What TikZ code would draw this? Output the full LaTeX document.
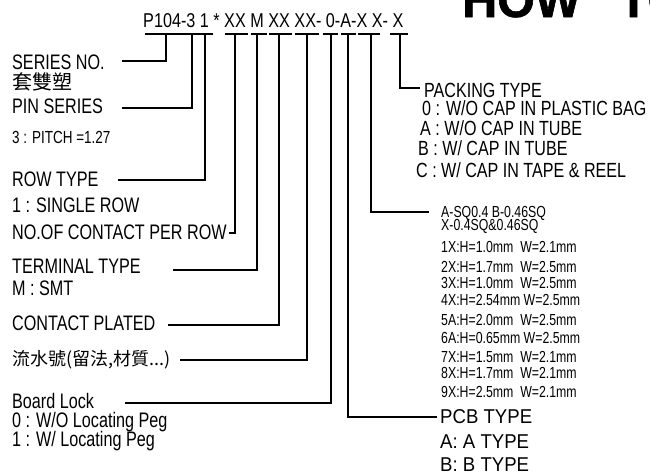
\documentclass[tikz,border=0pt]{standalone}
\usepackage{fontspec}
\setmainfont{Liberation Sans}[FakeStretch=0.77]
\newfontfamily\codefont{Liberation Sans}[FakeStretch=0.81]
\newfontfamily\pkfont{Liberation Sans}[FakeStretch=0.785]
\newfontfamily\pcbfont{Liberation Sans}[FakeStretch=0.93]
\newfontfamily\cjk{Noto Sans CJK TC}
\newfontfamily\titlefont{Liberation Sans}[FakeStretch=0.97,FakeBold=1.2]
\begin{document}
\begin{tikzpicture}[x=1pt,y=-1pt,
  big/.style={anchor=base west,inner sep=0pt,font=\fontsize{21}{23}\selectfont},
  pk/.style={anchor=base west,inner sep=0pt,font=\pkfont\fontsize{20.5}{22}\selectfont},
  pcbl/.style={anchor=base west,inner sep=0pt,font=\pcbfont\fontsize{20}{22}\selectfont},
  small/.style={anchor=base west,inner sep=0pt,font=\fontsize{17.5}{19}\selectfont},
  lst/.style={anchor=base west,inner sep=0pt,font=\fontsize{16}{18}\selectfont},
  zh/.style={anchor=base west,inner sep=0pt,font=\cjk\fontsize{18}{20}\selectfont},
  conn/.style={line width=1.4pt},
  uline/.style={line width=1.4pt}]
\useasboundingbox (0,0) rectangle (650,472);
% title (clipped at top)
\node[anchor=base west,inner sep=0pt,font=\titlefont\bfseries\fontsize{50}{52}\selectfont] (title) at (462,17) {HOW\hspace{38pt}TO};
% code
\node[anchor=base west,inner sep=0pt,font=\codefont\fontsize{20}{22}\selectfont] (code) at (143,27) {P104-3 1 * XX M XX XX- 0-A-X X- X};
% underline segments
\foreach \a/\b in {145/213,225/248,251/267,269/292,295/319,323/338,341/356,358/380,390/408}
  \draw[uline] (\a,34) -- (\b,34);
% attachment points
\coordinate (uA) at (166,34);
\coordinate (uB) at (192,34);
\coordinate (uC) at (205,34);
\coordinate (uD) at (235,34);
\coordinate (uE) at (257,34);
\coordinate (uF) at (279,34);
\coordinate (uG) at (307,34);
\coordinate (uH) at (331,34);
\coordinate (uI) at (348,34);
\coordinate (uJ) at (371,34);
\coordinate (uK) at (400,34);
% left labels
\node[big] (series) at (12,69) {SERIES NO.};
\node[zh,font=\cjk\fontsize{20}{22}\selectfont] (tao) at (12,89) {套雙塑};
\node[big] (pin) at (12,113) {PIN SERIES};
\node[small] (pitch) at (12,143) {3 : PITCH =1.27};
\node[big] (row) at (12,186) {ROW TYPE};
\node[big] (single) at (12,212) {1 : SINGLE ROW};
\node[big] (noof) at (12,239) {NO.OF CONTACT PER ROW};
\node[big] (term) at (12,273) {TERMINAL TYPE};
\node[big] (smt) at (12,295) {M : SMT};
\node[big] (plated) at (12,330) {CONTACT PLATED};
\node[zh] (serial) at (12,365) {流水號(留法,材質...)};
\node[big] (board) at (12,408) {Board Lock};
\node[big] (bl0) at (12,427) {0 : W/O Locating Peg};
\node[big] (bl1) at (12,446) {1 : W/ Locating Peg};
% left connector starts
\coordinate (sA) at (122,61);
\coordinate (sB) at (122,108);
\coordinate (sC) at (118,180);
\coordinate (sD) at (229,233);
\coordinate (sE) at (173,270);
\coordinate (sF) at (168,325);
\coordinate (sG) at (180,360);
\coordinate (sH) at (125,403);
\draw[conn] (sA) -| (uA);
\draw[conn] (sB) -| (uB);
\draw[conn] (sC) -| (uC);
\draw[conn] (sD) -| (uD);
\draw[conn] (sE) -| (uE);
\draw[conn] (sF) -| (uF);
\draw[conn] (sG) -| (uG);
\draw[conn] (sH) -| (uH);
% right side: packing
\node[pk] (pack) at (424,97) {PACKING TYPE};
\node[pk] (pk0) at (422,115) {0 : W/O CAP IN PLASTIC BAG};
\node[pk] (pkA) at (420,135) {A : W/O CAP IN TUBE};
\node[pk] (pkB) at (418,155) {B : W/ CAP IN TUBE};
\node[pk] (pkC) at (416,177) {C : W/ CAP IN TAPE \& REEL};
\coordinate (eK) at (420,88);
\draw[conn] (uK) |- (eK);
% terminal size list
\node[lst] (t0) at (441,217) {A-SQ0.4 B-0.46SQ};
\node[lst] (t0b) at (441,230) {X-0.4SQ\&0.46SQ};
\node[lst] (t1) at (441,252) {1X:H=1.0mm\ \ W=2.1mm};
\node[lst] (t2) at (441,272) {2X:H=1.7mm\ \ W=2.5mm};
\node[lst] (t3) at (441,288) {3X:H=1.0mm\ \ W=2.5mm};
\node[lst] (t4) at (441,305) {4X:H=2.54mm W=2.5mm};
\node[lst] (t5) at (441,325) {5A:H=2.0mm\ \ W=2.5mm};
\node[lst] (t6) at (441,343) {6A:H=0.65mm W=2.5mm};
\node[lst] (t7) at (441,362) {7X:H=1.5mm\ \ W=2.1mm};
\node[lst] (t8) at (441,378) {8X:H=1.7mm\ \ W=2.1mm};
\node[lst] (t9) at (441,397) {9X:H=2.5mm\ \ W=2.1mm};
\coordinate (eJ) at (429,212);
\draw[conn] (uJ) |- (eJ);
% PCB type
\node[pcbl] (pcb) at (440,423) {PCB TYPE};
\node[pcbl] (pcbA) at (440,448) {A: A TYPE};
\node[pcbl] (pcbB) at (440,471) {B: B TYPE};
\coordinate (eI) at (437,417);
\draw[conn] (uI) |- (eI);
\end{tikzpicture}
\end{document}
